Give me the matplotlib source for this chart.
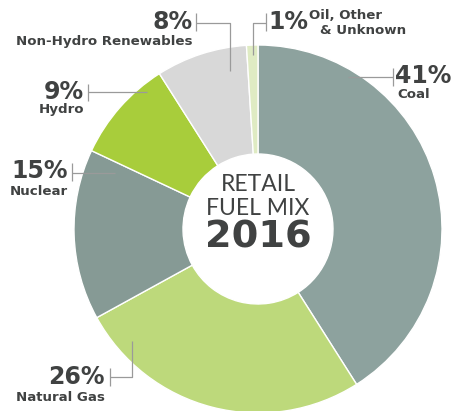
import matplotlib
matplotlib.use("Agg")
import matplotlib.pyplot as plt

# ---- data ----
categories = ["Coal", "Natural Gas", "Nuclear", "Hydro", "Non-Hydro Renewables", "Oil, Other & Unknown"]
values = [41, 26, 15, 9, 8, 1]
colors = ["#8da29e", "#bdd97b", "#869a95", "#a8cd3b", "#d8d8d8", "#dfebc3"]

W, H = 453, 411
def Y(py):
    return H - py

fig = plt.figure(figsize=(W / 100, H / 100), dpi=100)
ax = fig.add_axes([0, 0, 1, 1])

cx, cy, R = 258, Y(229), 184
inner = 75
ax.pie(values, colors=colors, startangle=90, counterclock=False,
       center=(cx, cy), radius=R,
       wedgeprops=dict(width=R - inner, edgecolor="white", linewidth=1.0))
ax.set_xlim(0, W)
ax.set_ylim(0, H)
ax.set_aspect("equal")
ax.axis("off")

txt = "#404242"
lc = "#9a9a9a"
lw = 0.9

# leader paths (pixel layout)
leaders = [
    [(393, 68), (393, 86)], [(348, 77), (393, 77)],
    [(266, 13), (266, 31)], [(253, 55), (253, 23), (266, 23)],
    [(196, 13), (196, 31)], [(196, 23), (230, 23), (230, 71)],
    [(88, 84), (88, 101)], [(88, 92), (147, 92)],
    [(72, 163), (72, 181)], [(72, 173), (115, 173)],
    [(110, 368), (110, 386)], [(110, 377), (132, 377), (132, 341)],
]
for pts in leaders:
    xs = [p[0] for p in pts]
    ys = [Y(p[1]) for p in pts]
    ax.plot(xs, ys, color=lc, lw=lw, solid_capstyle="butt")

pct_font = dict(family="DejaVu Sans", weight="bold", size=17, color=txt)
lab_font = dict(family="DejaVu Sans", weight="bold", size=9.6, color=txt)

# Coal
ax.text(395, Y(76), f"{values[0]}%", ha="left", va="center", **pct_font)
ax.text(397, Y(94), "Coal", ha="left", va="center", **lab_font)
# Oil
ax.text(268, Y(22), f"{values[5]}%", ha="left", va="center", **pct_font)
ax.text(309, Y(16), "Oil, Other", ha="left", va="center", **lab_font)
ax.text(406, Y(31), "& Unknown", ha="right", va="center", **lab_font)
# Non-hydro
ax.text(193, Y(22), f"{values[4]}%", ha="right", va="center", **pct_font)
ax.text(193, Y(42), "Non-Hydro Renewables", ha="right", va="center", **lab_font)
# Hydro
ax.text(84, Y(92), f"{values[3]}%", ha="right", va="center", **pct_font)
ax.text(84, Y(109), "Hydro", ha="right", va="center", **lab_font)
# Nuclear
ax.text(68, Y(171), f"{values[2]}%", ha="right", va="center", **pct_font)
ax.text(68, Y(192), "Nuclear", ha="right", va="center", **lab_font)
# Gas
ax.text(105, Y(377), f"{values[1]}%", ha="right", va="center", **pct_font)
ax.text(105, Y(397), "Natural Gas", ha="right", va="center", **lab_font)

# center
ax.text(cx, Y(185), "RETAIL", ha="center", va="center", family="Lato",
        weight="normal", size=16.5, color=txt)
ax.text(cx, Y(209), "FUEL MIX", ha="center", va="center", family="Lato",
        weight="normal", size=16.5, color=txt)
ax.text(cx, Y(237), "2016", ha="center", va="center", family="DejaVu Sans",
        weight="bold", size=27.5, color=txt)

fig.savefig("out.png", dpi=100)
